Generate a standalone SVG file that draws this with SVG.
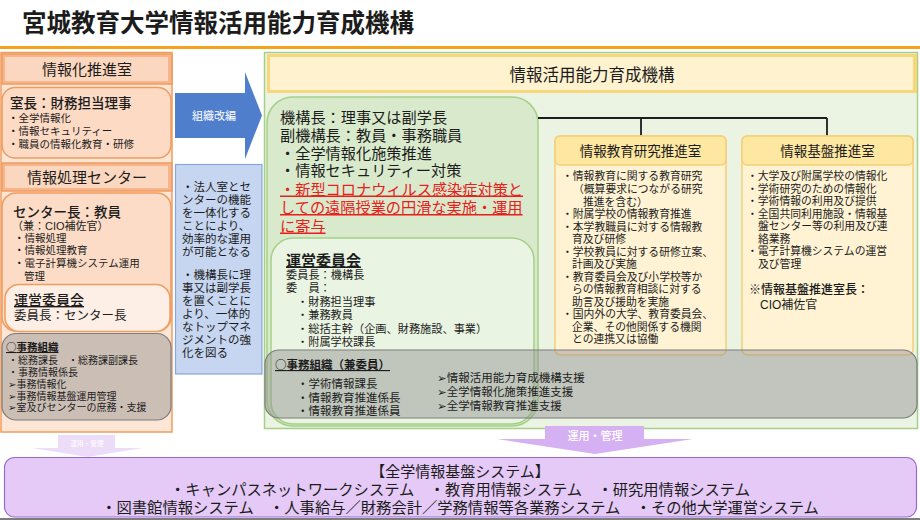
<svg xmlns="http://www.w3.org/2000/svg" width="920" height="520" viewBox="0 0 920 520">
<style>
text{font-family:"Liberation Sans","Noto Sans CJK JP","Noto Sans CJK SC","DejaVu Sans",sans-serif;fill:#1c1c1c}
.cjk{font-family:"Noto Sans CJK JP","Noto Sans CJK SC",sans-serif}
.c{text-anchor:middle}
.u{text-decoration:underline}
.b{font-weight:700}
.m{font-weight:500}
.w{fill:#ffffff}
.red{fill:#e8201c}
.orng{stroke:#ef9c5f;stroke-width:1.5}
.grn{stroke:#a6cf88;stroke-width:1.5}
.gray{fill:#8f8f8f;fill-opacity:0.45;stroke:#7c7c7c;stroke-width:1.2}
.sub{fill:#fff3d4;stroke:#f4cf78;stroke-width:1.5}
.subh{fill:#fee7a0;stroke:#f4cf78;stroke-width:1.5}
</style>
<rect x="0" y="0" width="920" height="520" fill="#ffffff"/>
<g id="title">
<text x="22" y="32" font-size="24.5" class="b">宮城教育大学情報活用能力育成機構</text>
<rect x="0" y="46" width="920" height="3" fill="#f5a31a"/>
</g>

<g id="left-panel">
<rect x="1" y="52.5" width="171" height="379.5" fill="#fde6d6" class="orng"/>
</g>

<g id="johoka-suishinshitsu">
<rect x="2" y="54" width="170" height="30" fill="#f6b58b" class="orng"/>
<rect x="5" y="57" width="163" height="24" fill="#fcd7bf"/>
<text x="87" y="74.5" font-size="15" class="c">情報化推進室</text>
<rect x="2" y="87.5" width="169" height="70.5" rx="13" fill="#fcdac4" class="orng"/>
<text x="10" y="108" font-size="13.5" class="m">室長：財務担当理事</text>
<g font-size="10.5">
<text x="8" y="122">・全学情報化</text>
<text x="8" y="135">・情報セキュリティー</text>
<text x="8" y="148">・職員の情報化教育・研修</text>
</g>
</g>

<g id="joho-shori-center">
<rect x="2" y="163" width="170" height="28" fill="#f6b58b" class="orng"/>
<rect x="5" y="166" width="163" height="22" fill="#fcd7bf"/>
<text x="87" y="182.5" font-size="15" class="c">情報処理センター</text>
<rect x="2" y="193" width="169" height="138" rx="14" fill="#fcdcc7" class="orng"/>
<text x="13" y="217" font-size="13.5" class="m">センター長：教員</text>
<text x="12" y="229.5" font-size="11">（兼：CIO補佐官）</text>
<g font-size="10.5">
<text x="14" y="241.5">・情報処理</text>
<text x="14" y="254">・情報処理教育</text>
<text x="14" y="267">・電子計算機システム運用</text>
<text x="24" y="280">管理</text>
</g>
</g>

<g id="left-unei">
<rect x="5" y="284.5" width="165" height="47" rx="14" fill="#fdefe5" class="orng"/>
<text x="14" y="305" font-size="14" class="u m">運営委員会</text>
<text x="14" y="320" font-size="12.5">委員長：センター長</text>
</g>

<g id="left-jimu">
<rect x="2" y="333.5" width="169" height="86.5" rx="14" class="gray" fill-opacity="0.5"/>
<text x="6" y="351" font-size="10.5" class="u b"><tspan class="cjk">○</tspan>事務組織</text>
<g font-size="10">
<text x="8" y="363.5">・総務課長　・総務課副課長</text>
<text x="8" y="375.5">・事務情報係長</text>
<text x="8" y="387.5">➢事務情報化</text>
<text x="8" y="399.5">➢事務情報基盤運用管理</text>
<text x="8" y="411">➢室及びセンターの庶務・支援</text>
</g>
</g>

<g id="reorg-note">
<rect x="175.5" y="164.5" width="86.5" height="209.5" fill="#c6d6f0" stroke="#86a7db" stroke-width="1.2"/>
<g font-size="11.5">
<text x="182" y="191">・法人室とセ</text>
<text x="182" y="204">ンターの機能</text>
<text x="182" y="217">を一体化する</text>
<text x="182" y="230">ことにより、</text>
<text x="182" y="243">効率的な運用</text>
<text x="182" y="256">が可能となる</text>
<text x="182" y="279">・機構長に理</text>
<text x="182" y="292">事又は副学長</text>
<text x="182" y="305">を置くことに</text>
<text x="182" y="318">より、一体的</text>
<text x="182" y="331">なトップマネ</text>
<text x="182" y="344">ジメントの強</text>
<text x="182" y="357">化を図る</text>
</g>
</g>

<g id="kiko">
<rect x="264.5" y="52.5" width="653" height="376" fill="#ebf3e3" class="grn"/>
<rect x="267" y="54" width="650" height="39" fill="#f8d77c"/>
<rect x="270" y="57" width="643" height="33" fill="#fef2cf"/>
<text x="592" y="81" font-size="16.5" class="c">情報活用能力育成機構</text>
</g>

<g id="kiko-cho">
<rect x="267" y="97" width="271" height="329" rx="26" fill="#d9eacc" class="grn"/>
<g font-size="15.2">
<text x="280" y="122.5">機構長：理事又は副学長</text>
<text x="280" y="140.5">副機構長：教員・事務職員</text>
<text x="280" y="158.5">・全学情報化施策推進</text>
<text x="280" y="176">・情報セキュリティー対策</text>
<text x="280" y="194.5" class="red u">・新型コロナウィルス感染症対策と</text>
<text x="280" y="213" class="red u">しての遠隔授業の円滑な実施・運用</text>
<text x="280" y="231.5" class="red u">に寄与</text>
</g>
</g>

<g id="kiko-unei">
<rect x="271" y="238" width="263" height="186" rx="22" fill="#eaf4e2" class="grn"/>
<text x="286" y="265.5" font-size="15" class="u b">運営委員会</text>
<g font-size="11.2">
<text x="286" y="278.5">委員長：機構長</text>
<text x="286" y="292">委　員：</text>
<text x="297" y="306">・財務担当理事</text>
<text x="297" y="319">・兼務教員</text>
<text x="297" y="332.5">・総括主幹（企画、財務施設、事業）</text>
<text x="297" y="346">・附属学校課長</text>
</g>
</g>

<g id="connectors">
<path d="M538 118 H827 M641 118 V136 M827 118 V136" fill="none" stroke="#1c1c1c" stroke-width="1.8"/>
<polygon points="175,93 245,93 245,72 262,115.5 245,159 245,138 175,138" fill="#4f7fcc"/>
<text x="214" y="120" font-size="11" class="c w">組織改編</text>
<polygon points="58,435 115,435 115,448 143,448 87.5,457 32,448 58,448" fill="#ecdcf8"/>
<text x="87" y="445.5" font-size="6.6" class="c w">運用・管理</text>
<polygon points="545,426 644,426 644,439 693,439 595,454 497,439 545,439" fill="#d5b0f2"/>
<text x="595" y="440" font-size="11" class="c w m">運用・管理</text>
</g>

<g id="kyoiku-kenkyu">
<rect x="555" y="136" width="171" height="219" rx="5" class="sub"/>
<rect x="555" y="136" width="171" height="29" rx="5" class="subh"/>
<text x="640.5" y="156" font-size="13.5" class="c">情報教育研究推進室</text>
<g font-size="10.8">
<text x="562" y="180">・情報教育に関する教育研究</text>
<text x="573" y="192.5">（概算要求につながる研究</text>
<text x="583" y="205.5">推進を含む）</text>
<text x="562" y="218">・附属学校の情報教育推進</text>
<text x="562" y="230.5">・本学教職員に対する情報教</text>
<text x="572" y="243">育及び研修</text>
<text x="562" y="255.5">・学校教員に対する研修立案、</text>
<text x="572" y="268">計画及び実施</text>
<text x="562" y="280.5">・教育委員会及び小学校等か</text>
<text x="572" y="293">らの情報教育相談に対する</text>
<text x="572" y="305.5">助言及び援助を実施</text>
<text x="562" y="318">・国内外の大学、教育委員会、</text>
<text x="572" y="330.5">企業、その他関係する機関</text>
<text x="572" y="343">との連携又は協働</text>
</g>
</g>

<g id="kiban">
<rect x="742" y="136" width="171" height="219" rx="5" class="sub"/>
<rect x="742" y="136" width="171" height="29" rx="5" class="subh"/>
<text x="827.5" y="156" font-size="13.5" class="c">情報基盤推進室</text>
<g font-size="10.8">
<text x="747" y="180">・大学及び附属学校の情報化</text>
<text x="747" y="192.5">・学術研究のための情報化</text>
<text x="747" y="205">・学術情報の利用及び提供</text>
<text x="747" y="217.5">・全国共同利用施設・情報基</text>
<text x="758" y="230">盤センター等の利用及び連</text>
<text x="758" y="242.5">絡業務</text>
<text x="747" y="255">・電子計算機システムの運営</text>
<text x="758" y="267.5">及び管理</text>
</g>
<text x="749" y="293.5" font-size="12" class="m">※情報基盤推進室長：</text>
<text x="760" y="308.5" font-size="12">CIO補佐官</text>
</g>

<g id="kiko-jimu">
<rect x="265" y="350" width="652" height="68" rx="14" class="gray"/>
<text x="275" y="369" font-size="11.5" class="u b"><tspan class="cjk">○</tspan>事務組織（兼委員）</text>
<g font-size="11.5">
<text x="297" y="388">・学術情報課長</text>
<text x="297" y="401.5">・情報教育推進係長</text>
<text x="297" y="415">・情報教育推進係員</text>
<text x="437" y="382">➢情報活用能力育成機構支援</text>
<text x="437" y="396">➢全学情報化施策推進支援</text>
<text x="437" y="410">➢全学情報教育推進支援</text>
</g>
</g>

<g id="zengaku-kiban">
<rect x="4.5" y="457.5" width="912" height="59.5" rx="10" fill="#e5c9f6" stroke="#9a6acb" stroke-width="1.2"/>
<text x="460" y="476.5" font-size="15" class="c">【全学情報基盤システム】</text>
<text x="460" y="495" font-size="15.3" class="c">・キャンパスネットワークシステム　・教育用情報システム　・研究用情報システム</text>
<text x="460" y="513" font-size="15.3" class="c">・図書館情報システム　・人事給与／財務会計／学務情報等各業務システム　・その他大学運営システム</text>
</g>
<rect x="0" y="518" width="920" height="2" fill="#7d7d7d"/>
</svg>
